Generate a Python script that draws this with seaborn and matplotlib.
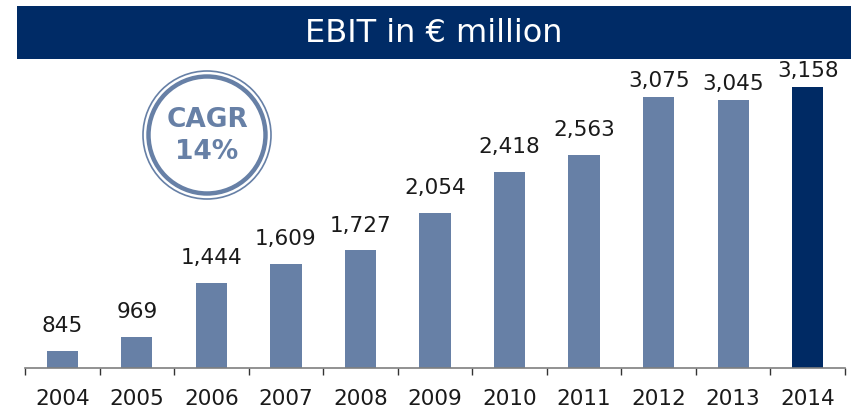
import numpy as np
import pandas as pd
import seaborn as sns
import matplotlib.pyplot as plt
from matplotlib.patches import Rectangle, Circle
from matplotlib.ticker import FixedLocator

years = ["2004", "2005", "2006", "2007", "2008", "2009",
         "2010", "2011", "2012", "2013", "2014"]
ebit = [845, 969, 1444, 1609, 1727, 2054, 2418, 2563, 3075, 3045, 3158]
highlight = ["past"] * 10 + ["current"]

title = "EBIT in \u20ac million"

LIGHT = "#6780a6"
DARK = "#002a64"

df = pd.DataFrame({"year": years, "ebit": ebit, "kind": highlight})

sns.set_theme(style="white")
plt.rcParams["font.family"] = ["DejaVu Sans"]

fig = plt.figure(figsize=(8.58, 4.09), dpi=100)
W, H = 858, 409
ax = fig.add_axes([25 / W, 1 - 368 / H, 820 / W, (368 - 65) / H])

sns.barplot(data=df, x="year", y="ebit", hue="kind",
            palette={"past": LIGHT, "current": DARK},
            width=0.42, legend=False, ax=ax, saturation=1, linewidth=0)

ax.set_ylim(696, 696 + (368 - 65) / 0.1141)
ax.set_xlim(-0.5, len(years) - 0.5)

# value labels above bars (top ones squeezed under the banner)
for i, v in enumerate(ebit):
    off = 130 if v < 2800 else 50
    ax.text(i, v + off, f"{v:,}", ha="center", va="bottom",
            fontsize=15.5, color="#1a1a1a")

ax.set_xlabel("")
ax.set_ylabel("")
ax.set_yticks([])
for s in ["top", "right", "left"]:
    ax.spines[s].set_visible(False)
ax.spines["bottom"].set_color("#7f7f7f")
ax.spines["bottom"].set_linewidth(1.2)
ax.tick_params(axis="x", which="major", length=0, pad=15, labelsize=15.5,
               labelcolor="#1a1a1a")
ax.xaxis.set_minor_locator(FixedLocator(np.arange(-0.5, len(years), 1.0)))
ax.tick_params(axis="x", which="minor", length=5, width=1,
               color="#333333", bottom=True)

# overlay in pixel coordinates for the banner and the CAGR badge
ov = fig.add_axes([0, 0, 1, 1], facecolor="none")
ov.set_xlim(0, W)
ov.set_ylim(H, 0)
ov.axis("off")
ov.add_patch(Rectangle((17, 6), 834, 53, facecolor="#002b66",
                       edgecolor="none"))
ov.text(434, 33, title, ha="center", va="center", color="white",
        fontsize=23)

ov.add_patch(Circle((207, 135), 64, facecolor="none", edgecolor=LIGHT,
                    linewidth=1.2))
ov.add_patch(Circle((207, 135), 58.5, facecolor="none", edgecolor=LIGHT,
                    linewidth=3.2))
ov.text(207, 120, "CAGR", ha="center", va="center", color=LIGHT,
        fontsize=19, fontweight="bold")
ov.text(207, 152, "14%", ha="center", va="center", color=LIGHT,
        fontsize=19, fontweight="bold")

fig.savefig("out.png", dpi=100)
